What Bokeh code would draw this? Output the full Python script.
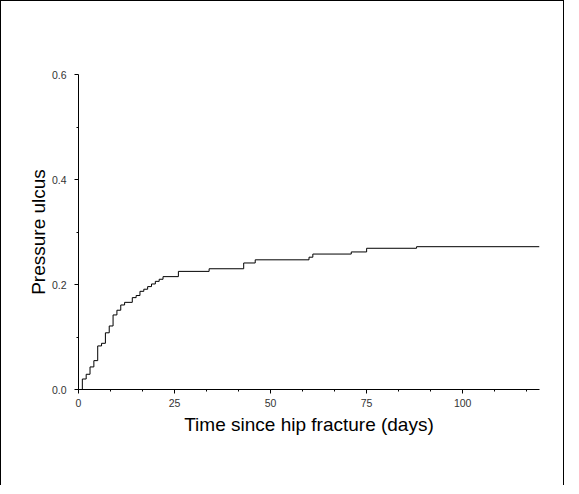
from bokeh.plotting import figure
from bokeh.embed import file_html
from bokeh.resources import INLINE
from bokeh.models import Range1d, FixedTicker, NumeralTickFormatter

# Cumulative incidence of pressure ulcers (step function)
days = [0, 1, 2, 3, 4, 5, 6, 7, 8, 9, 10, 11, 12, 14, 15, 16, 17, 18, 19, 20,
        21, 22, 26, 34, 43, 46, 60, 61, 71, 75, 88, 120]
incidence = [0.0, 0.020, 0.029, 0.043, 0.055, 0.083, 0.088, 0.108, 0.121, 0.142,
             0.151, 0.161, 0.166, 0.175, 0.179, 0.187, 0.191, 0.196, 0.201, 0.206,
             0.210, 0.215, 0.225, 0.230, 0.241, 0.247, 0.252, 0.258, 0.262, 0.269,
             0.272, 0.272]

x_major = [0, 25, 50, 75, 100]
x_minor = [k * 25 / 3 for k in range(15)]
y_major = [0.0, 0.2, 0.4, 0.6]
y_minor = [0.1, 0.3, 0.5]

FONT = "Liberation Sans"

p = figure(width=564, height=485, output_backend="svg", toolbar_location=None,
           x_range=Range1d(0, 120), y_range=Range1d(0, 0.6),
           min_border_left=77, min_border_right=26, min_border_top=73,
           min_border_bottom=97,
           x_axis_label="Time since hip fracture (days)",
           y_axis_label="Pressure ulcus")

p.step(days, incidence, mode="after", line_color="black", line_width=1)

p.outline_line_color = None
p.grid.visible = False
p.background_fill_color = "white"
p.border_fill_color = "white"

p.xaxis.ticker = FixedTicker(ticks=x_major, minor_ticks=x_minor)
p.yaxis.ticker = FixedTicker(ticks=y_major, minor_ticks=y_minor)
p.yaxis.formatter = NumeralTickFormatter(format="0.0")

for ax in (p.xaxis[0], p.yaxis[0]):
    ax.axis_line_color = "black"
    ax.axis_line_width = 1
    ax.major_tick_line_color = "black"
    ax.minor_tick_line_color = "black"
    ax.major_tick_out = 4
    ax.major_tick_in = 0
    ax.minor_tick_out = 2
    ax.minor_tick_in = 0
    ax.major_label_text_font = FONT
    ax.major_label_text_font_size = "10.5px"
    ax.major_label_text_color = "#333333"
    ax.axis_label_text_font = FONT
    ax.axis_label_text_font_size = "19px"
    ax.axis_label_text_font_style = "normal"
    ax.axis_label_text_color = "black"

p.xaxis.major_label_standoff = 5
p.xaxis.axis_label_standoff = 4
p.yaxis.major_label_standoff = 8
p.yaxis.axis_label_standoff = 0

p.styles = {"border-top": "1px solid black", "border-left": "1px solid black",
            "border-right": "1px solid black"}

open("out.html", "w").write(file_html(p, INLINE))
